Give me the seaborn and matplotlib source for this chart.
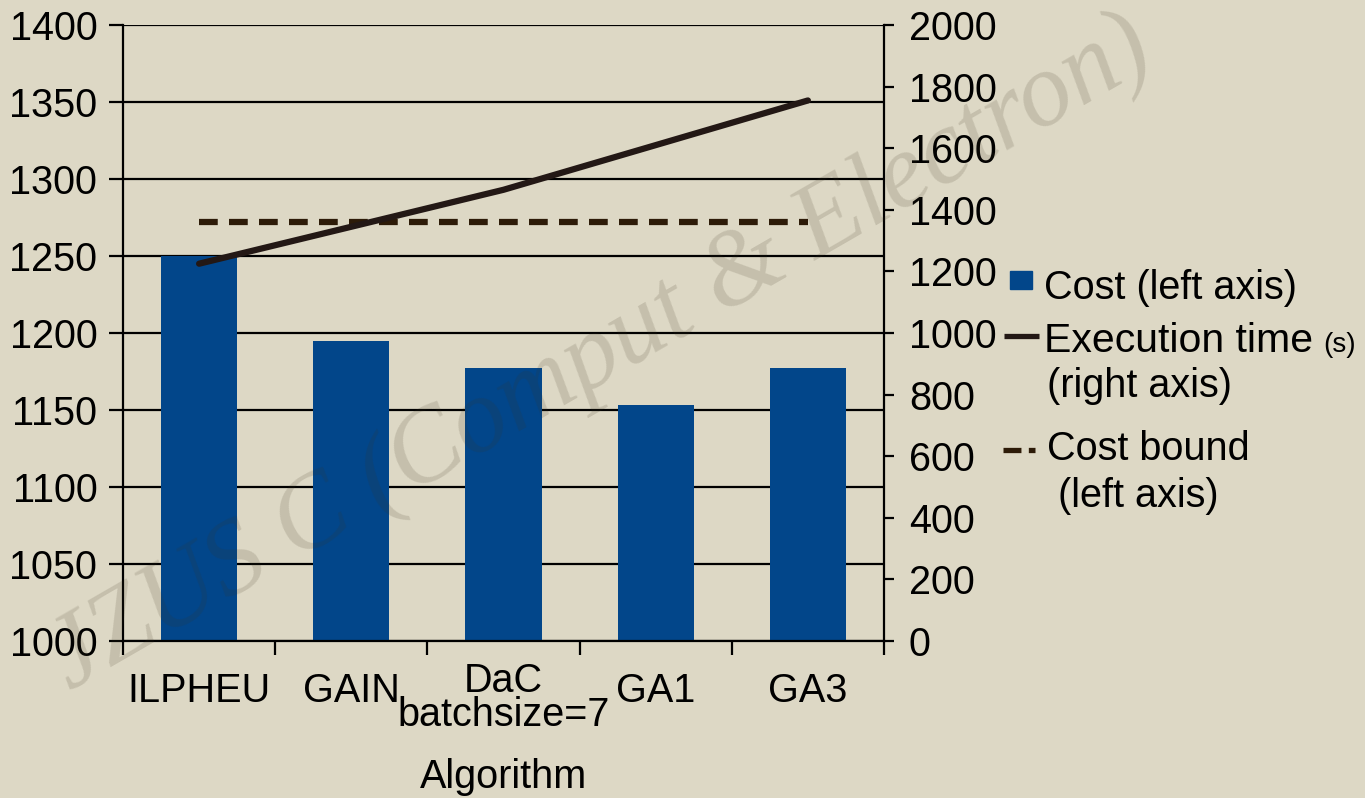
import numpy as np
import matplotlib
matplotlib.use("Agg")
import matplotlib.pyplot as plt
import matplotlib.transforms as mtransforms
import seaborn as sns
from matplotlib.lines import Line2D
from matplotlib.patches import Rectangle

# values
categories = ["ILPHEU", "GAIN", "DaC\nbatchsize=7", "GA1", "GA3"]
cost = [1250, 1195, 1177, 1153, 1177]              # left axis
exec_time = [1225, 1345, 1465, 1610, 1755]         # right axis, seconds
cost_bound = [1272, 1272, 1272, 1272, 1272]        # left axis
left_ticks = [1000, 1050, 1100, 1150, 1200, 1250, 1300, 1350, 1400]
right_ticks = [0, 200, 400, 600, 800, 1000, 1200, 1400, 1600, 1800, 2000]

BG = "#ddd8c5"
BAR = "#02468a"
LINE = "#231815"
BOUND = "#2d1b08"
FS = 28.5

W, H = 1365, 798


def fx(px):
    return px / W


def fy(py):
    return 1 - py / H


sns.set_style("white")
plt.rcParams["font.family"] = ["Liberation Sans", "DejaVu Sans"]
plt.rcParams["text.color"] = "black"
plt.rcParams["axes.labelcolor"] = "black"
plt.rcParams["xtick.color"] = "black"
plt.rcParams["ytick.color"] = "black"

fig = plt.figure(figsize=(W / 100, H / 100), dpi=100, facecolor=BG)
ax = fig.add_axes([fx(123), fy(641), (884 - 123) / W, (641 - 25) / H])
ax.set_facecolor(BG)

pos = np.arange(len(categories))
sns.barplot(x=categories, y=cost, color=BAR, saturation=1, width=0.5,
            linewidth=0, ax=ax)
sns.lineplot(x=pos, y=cost_bound, ax=ax, color=BOUND, lw=4.5,
             linestyle=(0, (3, 1.8)), solid_capstyle="butt")

ax2 = ax.twinx()
sns.lineplot(x=pos, y=exec_time, ax=ax2, color=LINE, lw=4.5)

# axes limits / ticks
ax.set_xlim(-0.5, len(categories) - 0.5)
ax.set_ylim(left_ticks[0], left_ticks[-1])
ax.set_yticks(left_ticks)
ax2.set_ylim(right_ticks[0], right_ticks[-1])
ax2.set_yticks(right_ticks)

ax.set_xticks(pos)
ax.set_xticklabels(categories, linespacing=0.88)
ax.set_xticks(np.arange(-0.5, len(categories)), minor=True)

ax.yaxis.grid(True, color="black", lw=1.6)
ax.set_axisbelow(True)

for a in (ax, ax2):
    for s in a.spines.values():
        s.set_visible(False)
ax.spines["left"].set_visible(True)
ax.spines["bottom"].set_visible(True)
ax2.spines["right"].set_visible(True)
for s in (ax.spines["left"], ax.spines["bottom"], ax2.spines["right"]):
    s.set_color("black")
    s.set_linewidth(1.6)

ax.tick_params(axis="y", direction="out", length=10, width=1.6, pad=8.5,
               labelsize=FS, colors="black", left=True)
ax.tick_params(axis="x", which="major", length=0, pad=22, labelsize=FS,
               labelcolor="black")
ax.tick_params(axis="x", which="minor", direction="out", length=10,
               width=1.6, color="black", bottom=True)
ax2.tick_params(axis="y", direction="out", length=7, width=1.6, pad=11,
                labelsize=FS, colors="black", right=True)

# the two-line label sits a little higher in the original
# (done after tick_params, which resets the label transforms)
dac = ax.get_xticklabels()[2]
dac.set_transform(dac.get_transform() + mtransforms.ScaledTranslation(
    0, 10 / 100, fig.dpi_scale_trans))

ax.set_ylabel("")
ax2.set_ylabel("")
ax.set_xlabel("Algorithm", fontsize=FS, color="black")
ax.xaxis.set_label_coords(0.5, -0.19)

# legend, laid out like the original (handle beside first line)
fig.add_artist(Rectangle((fx(1010), fy(289)), 22 / W, 18 / H,
                         transform=fig.transFigure, color=BAR))
fig.text(fx(1044), fy(299), "Cost (left axis)", fontsize=FS, va="baseline")

fig.add_artist(Line2D([fx(1004), fx(1039)], [fy(336), fy(336)],
                      transform=fig.transFigure, color=LINE, lw=3.8,
                      solid_capstyle="butt"))
fig.text(fx(1044), fy(352), "Execution time", fontsize=29.5, va="baseline")
fig.text(fx(1323), fy(352), "(s)", fontsize=20, va="baseline")
fig.text(fx(1047), fy(397), "(right axis)", fontsize=FS, va="baseline")

fig.add_artist(Line2D([fx(1003), fx(1035)], [fy(450), fy(450)],
                      transform=fig.transFigure, color=BOUND, lw=3.8,
                      linestyle=(0, (3.4, 1.4)), solid_capstyle="butt"))
fig.text(fx(1047), fy(460), "Cost bound", fontsize=FS, va="baseline")
fig.text(fx(1058), fy(507), "(left axis)", fontsize=FS, va="baseline")

# watermark
fig.text(0.44, 0.555, "JZUS C (Comput & Electron)", fontsize=76,
         family=["Liberation Serif", "DejaVu Serif"], style="italic",
         color="#3c321e", alpha=0.15, rotation=30, rotation_mode="anchor",
         ha="center", va="center", zorder=20)

fig.savefig("out.png", dpi=100, facecolor=BG)
